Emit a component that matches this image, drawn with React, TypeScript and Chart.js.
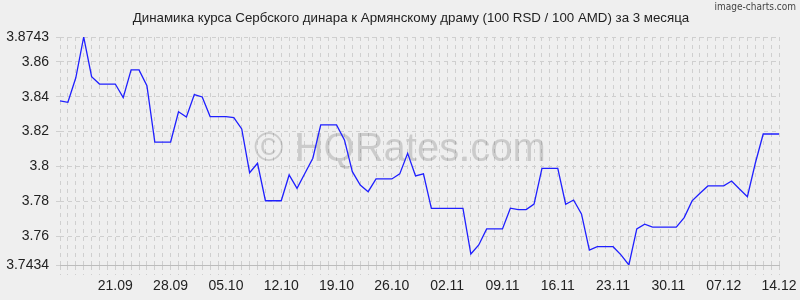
import React, { useEffect, useRef } from 'react';
import { Chart, registerables } from 'chart.js';

Chart.register(...registerables);

const dates = [
  '14.09', '15.09', '16.09', '17.09', '18.09', '19.09', '20.09', '21.09', '22.09', '23.09',
  '24.09', '25.09', '26.09', '27.09', '28.09', '29.09', '30.09', '01.10', '02.10', '03.10',
  '04.10', '05.10', '06.10', '07.10', '08.10', '09.10', '10.10', '11.10', '12.10', '13.10',
  '14.10', '15.10', '16.10', '17.10', '18.10', '19.10', '20.10', '21.10', '22.10', '23.10',
  '24.10', '25.10', '26.10', '27.10', '28.10', '29.10', '30.10', '31.10', '01.11', '02.11',
  '03.11', '04.11', '05.11', '06.11', '07.11', '08.11', '09.11', '10.11', '11.11', '12.11',
  '13.11', '14.11', '15.11', '16.11', '17.11', '18.11', '19.11', '20.11', '21.11', '22.11',
  '23.11', '24.11', '25.11', '26.11', '27.11', '28.11', '29.11', '30.11', '01.12', '02.12',
  '03.12', '04.12', '05.12', '06.12', '07.12', '08.12', '09.12', '10.12', '11.12', '12.12',
  '13.12', '14.12',
];

const rates = [
  3.8376, 3.8368, 3.8509, 3.8743, 3.8515, 3.8473, 3.8473, 3.8473, 3.8395, 3.8554,
  3.8554, 3.8463, 3.8140, 3.8140, 3.8140, 3.8314, 3.8284, 3.8412, 3.8399, 3.8286,
  3.8286, 3.8286, 3.8280, 3.8215, 3.7964, 3.8018, 3.7803, 3.7803, 3.7803, 3.7951,
  3.7874, 3.7961, 3.8047, 3.8238, 3.8238, 3.8238, 3.8152, 3.7970, 3.7893, 3.7855,
  3.7928, 3.7928, 3.7928, 3.7957, 3.8075, 3.7945, 3.7957, 3.7759, 3.7759, 3.7759,
  3.7759, 3.7759, 3.7497, 3.7549, 3.7641, 3.7641, 3.7641, 3.7760, 3.7752, 3.7752,
  3.7784, 3.7989, 3.7989, 3.7989, 3.7783, 3.7807, 3.7727, 3.7520, 3.7539, 3.7539,
  3.7539, 3.7492, 3.7434, 3.7641, 3.7668, 3.7651, 3.7651, 3.7651, 3.7651, 3.7706,
  3.7802, 3.7846, 3.7888, 3.7888, 3.7888, 3.7916, 3.7870, 3.7826, 3.8018, 3.8186,
  3.8186, 3.8186,
];

const yTicks = [3.7434, 3.76, 3.78, 3.8, 3.82, 3.84, 3.86, 3.8743];
const yMin = 3.7434;
const yMax = 3.8743;

const titleText = 'Динамика курса Сербского динара к Армянскому драму (100 RSD / 100 AMD) за 3 месяца';
const watermarkText = '© HQRates.com';
const creditText = 'image-charts.com';

const FONT = '"Liberation Sans", Arial, sans-serif';
const GRID = '#cfcfcf';

export default function App() {
  const ref = useRef<HTMLCanvasElement | null>(null);

  useEffect(() => {
    if (!ref.current) return;
    const decor = {
      id: 'decor',
      beforeDraw(chart: any) {
        const ctx = chart.ctx;
        ctx.save();
        ctx.fillStyle = '#efefef';
        ctx.fillRect(0, 0, chart.width, chart.height);
        ctx.restore();
      },
      beforeDatasetsDraw(chart: any) {
        const ctx = chart.ctx;
        ctx.save();
        ctx.font = `40px ${FONT}`;
        ctx.fillStyle = 'rgba(0,0,0,0.15)';
        ctx.textAlign = 'center';
        ctx.textBaseline = 'middle';
        ctx.fillText(watermarkText, 400, 150);
        ctx.restore();
      },
      afterDraw(chart: any) {
        const ctx = chart.ctx;
        ctx.save();
        ctx.font = `13.3px ${FONT}`;
        ctx.fillStyle = '#222';
        ctx.textAlign = 'center';
        ctx.textBaseline = 'middle';
        ctx.fillText(titleText, 411, 18);
        ctx.font = '10px "DejaVu Sans Condensed", "DejaVu Sans", sans-serif';
        ctx.fillStyle = '#444';
        ctx.textAlign = 'right';
        ctx.textBaseline = 'middle';
        ctx.fillText(creditText, 796, 7);
        ctx.restore();
      },
    };

    const chart = new Chart(ref.current, {
      type: 'line',
      data: {
        labels: dates,
        datasets: [
          {
            data: rates,
            borderColor: '#1f1fff',
            borderWidth: 1.3,
            pointRadius: 0,
            tension: 0,
            fill: false,
          },
        ],
      },
      options: {
        responsive: false,
        animation: false,
        devicePixelRatio: 1,
        layout: { padding: { top: 37, right: 21, left: 0, bottom: 0 } },
        plugins: { legend: { display: false }, tooltip: { enabled: false }, title: { display: false } },
        scales: {
          x: {
            type: 'category',
            offset: false,
            grid: {
              color: GRID,
              lineWidth: 1,
              drawTicks: true,
              tickLength: 10,
              tickColor: GRID,
              tickBorderDash: [4, 4],
            },
            border: { display: true, color: '#bcbcbc', dash: [4, 4] },
            ticks: {
              autoSkip: false,
              maxRotation: 0,
              minRotation: 0,
              padding: 3,
              color: '#222',
              font: { family: FONT, size: 14 },
              callback: (_v: any, i: number) => (i > 0 && (dates.length - 1 - i) % 7 === 0 ? dates[i] : ''),
            },
            afterFit: (s: any) => {
              s.height = 35;
            },
          },
          y: {
            type: 'linear',
            min: yMin,
            max: yMax,
            afterBuildTicks: (s: any) => {
              s.ticks = yTicks.map((v) => ({ value: v }));
            },
            grid: { color: GRID, lineWidth: 1, tickLength: 4, tickColor: GRID },
            border: { display: false, dash: [4, 4] },
            ticks: {
              padding: 7,
              color: '#222',
              font: { family: FONT, size: 14 },
              callback: (v: any) => String(v),
            },
            afterFit: (s: any) => {
              s.width = 60;
            },
          },
        },
      },
      plugins: [decor],
    } as any);
    return () => chart.destroy();
  }, []);

  return (
    <div style={{ position: 'fixed', left: 0, top: 0, width: 800, height: 300 }}>
      <canvas ref={ref} width={800} height={300} style={{ display: 'block', width: 800, height: 300 }} />
    </div>
  );
}
